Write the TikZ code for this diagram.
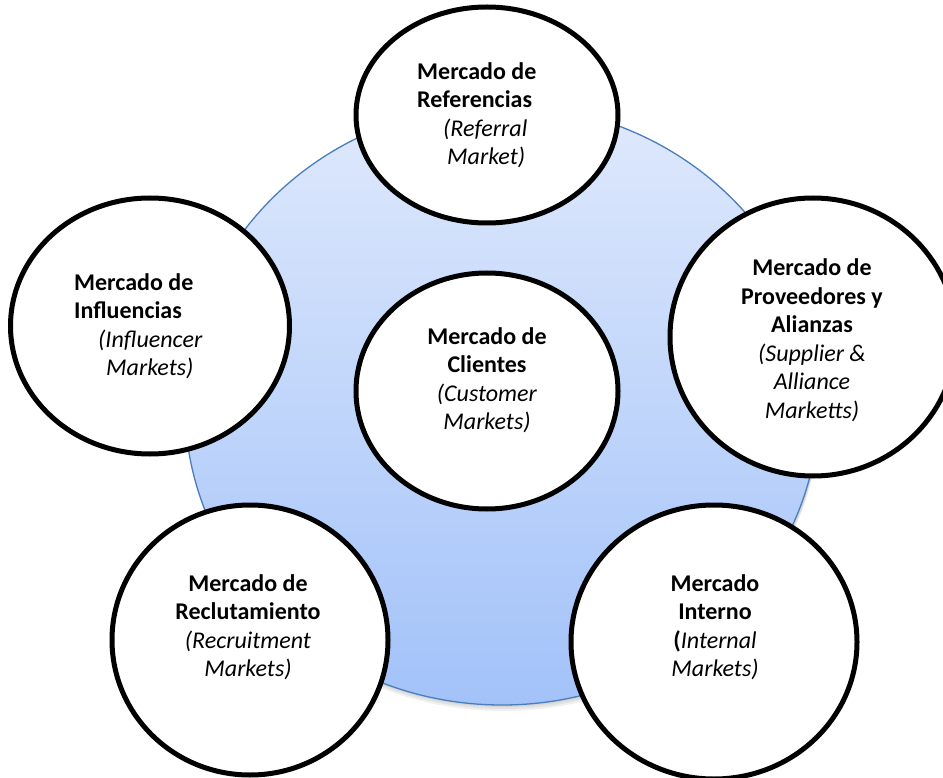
\documentclass[tikz,border=0pt]{standalone}
\usepackage{fontspec}
\setmainfont{Carlito}
\usetikzlibrary{shapes.geometric, positioning}

\definecolor{basetop}{HTML}{DFE9FC}
\definecolor{basebot}{HTML}{A2C2F9}
\definecolor{edgeblue}{HTML}{4A7EBB}

\begin{document}
\begin{tikzpicture}[x=1pt, y=-1pt,
mkt/.style={ellipse, draw, line width=5pt, fill=white, inner sep=0pt},
txt/.style={inner sep=0pt, align=center, font=\fontsize{24}{28.5}\selectfont}]
\clip (0,0) rectangle (943,778);
% soft shadow under the big disc
\foreach \d in {2,4,6}
  \fill[black, opacity=0.06] (503,405+\d) ellipse [x radius=317, y radius=300];
\node[ellipse, minimum width=634pt, minimum height=600pt, inner sep=0pt,
  draw=edgeblue, line width=1.3pt, top color=basetop, bottom color=basebot]
  (base) at (502,405) {};

% the six markets
\node[mkt, minimum width=262pt, minimum height=216pt] (ref)  at (487,115) {};
\node[mkt, minimum width=279pt, minimum height=256pt] (infl) at (150,326) {};
\node[mkt, minimum width=262pt, minimum height=236pt] (cli)  at (487,391) {};
\node[mkt, minimum width=286pt, minimum height=278pt] (prov) at (813,337) {};
\node[mkt, minimum width=276pt, minimum height=270pt] (recl) at (250,640) {};
\node[mkt, minimum width=286pt, minimum height=274pt] (int)  at (714,642) {};

\node[txt, align=left, anchor=west] (tref) at (417,115)
  {\textbf{Mercado de}\\\textbf{Referencias}\\\hspace*{26pt}\textit{(Referral}\\\hspace*{30pt}\textit{Market)}};
\node[txt, align=left, anchor=west] (tinfl) at (74,326)
  {\textbf{Mercado de}\\\textbf{Influencias}\\\hspace*{24pt}\textit{(Influencer}\\\hspace*{32pt}\textit{Markets)}};
\node[txt] (tcli) at (487,380)
  {\textbf{Mercado de}\\\textbf{Clientes}\\\textit{(Customer}\\\textit{Markets)}};
\node[txt] (tprov) at (812,340)
  {\textbf{Mercado de}\\\textbf{Proveedores y}\\\textbf{Alianzas}\\\textit{(Supplier \&}\\\textit{Alliance}\\\textit{Marketts)}};
\node[txt] (trecl) at (248,627)
  {\textbf{Mercado de}\\\textbf{Reclutamiento}\\\textit{(Recruitment}\\\textit{Markets)}};
\node[txt] (tint) at (715,627)
  {\textbf{Mercado}\\\textbf{Interno}\\\textbf{(}\textit{Internal}\\\textit{Markets)}};
\end{tikzpicture}
\end{document}
